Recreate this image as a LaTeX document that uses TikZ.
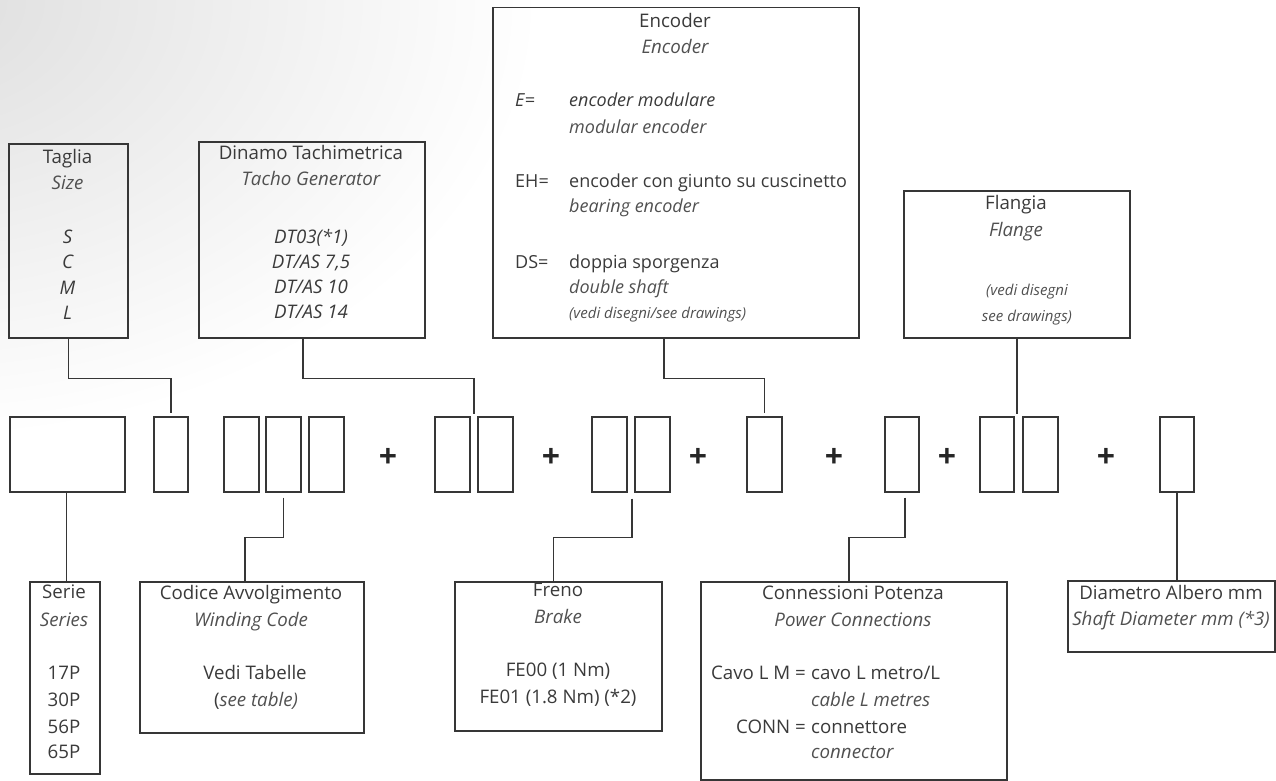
\documentclass[tikz,border=0pt]{standalone}
\usepackage{fontspec}
\setmainfont{Open Sans}
\usetikzlibrary{calc}
\definecolor{linec}{HTML}{363636}
\definecolor{txtc}{HTML}{3A3A3A}
\definecolor{itc}{HTML}{505050}
\begin{document}
\begin{tikzpicture}[x=1pt,y=-1pt,
  box/.style={draw=linec, line width=1.5pt, inner sep=0pt, anchor=north west},
  conn/.style={draw=linec, line width=1.5pt},
  txt/.style={anchor=base, text=txtc, inner sep=0pt, font=\fontsize{18.7}{20}\selectfont},
  it/.style={txt, text=itc, font=\fontsize{18.7}{20}\selectfont\itshape},
  itd/.style={txt, font=\fontsize{18.7}{20}\selectfont\itshape},
  sm/.style={txt, text=itc, font=\fontsize{15}{17}\selectfont\itshape},
  txtl/.style={txt, anchor=base west},
  itl/.style={it, anchor=base west},
  etxt/.style={txt, anchor=base west, font=\fontsize{18}{20}\selectfont},
  eit/.style={etxt, text=itc, font=\fontsize{18}{20}\selectfont\itshape},
  eitd/.style={etxt, font=\fontsize{18}{20}\selectfont\itshape},
  plus/.style={inner sep=0pt, text=black!85, font=\fontsize{32}{32}\selectfont\bfseries}]
\useasboundingbox (0,0) rectangle (1276,781);
% background gradient
\begin{scope}
  \clip (0,0) rectangle (1276,781);
  \shade[inner color=black!13, outer color=white] (-80,0) ellipse [x radius=620, y radius=440];
\end{scope}

% ---------- top boxes ----------
\node[box, minimum width=119pt, minimum height=194pt] (taglia) at (8,143) {};
\node[txt] (tag1) at (67.5,163) {Taglia};
\node[it] (tag2) at (67.5,189) {Size};
\node[itd] (tag3) at (67.5,243) {S};
\node[itd] (tag4) at (67.5,268) {C};
\node[itd] (tag5) at (67.5,294) {M};
\node[itd] (tag6) at (67.5,319) {L};

\node[box, minimum width=226pt, minimum height=196pt] (dinamo) at (198,141) {};
\node[txt] (din1) at (311,159) {Dinamo Tachimetrica};
\node[it] (din2) at (311,185) {Tacho Generator};
\node[itd] (din3) at (311,243) {DT03(*1)};
\node[itd] (din4) at (311,268) {DT/AS 7,5};
\node[itd] (din5) at (311,293) {DT/AS 10};
\node[itd] (din6) at (311,318) {DT/AS 14};

\node[box, minimum width=366pt, minimum height=330pt] (encoder) at (492,7) {};
\node[txt] (enc1) at (675,28) {Encoder};
\node[it] (enc2) at (675,54) {Encoder};
\node[eitd] (enc3) at (515,107) {E=};
\node[eitd] (enc4) at (569,107) {encoder modulare};
\node[eit] (enc5) at (569,133) {modular encoder};
\node[etxt] (enc6) at (515,187) {EH=};
\node[etxt] (enc7) at (569,187) {encoder con giunto su cuscinetto};
\node[eit] (enc8) at (569,212) {bearing encoder};
\node[etxt] (enc9) at (515,268) {DS=};
\node[etxt] (enc10) at (569,268) {doppia sporgenza};
\node[eit] (enc11) at (569,293) {double shaft};
\node[sm, anchor=base west] (enc12) at (569,318) {(vedi disegni/see drawings)};

\node[box, minimum width=226pt, minimum height=147pt] (flangia) at (903,190) {};
\node[txt] (fl1) at (1016,209) {Flangia};
\node[it] (fl2) at (1016,236) {Flange};
\node[sm] (fl3) at (1027,295) {(vedi disegni};
\node[sm] (fl4) at (1027,321) {see drawings)};

% ---------- code row ----------
\node[box, minimum width=115pt, minimum height=75pt] (b0) at (9,416) {};
\node[box, minimum width=34pt, minimum height=75pt] (b1) at (153,416) {};
\node[box, minimum width=35pt, minimum height=75pt] (b2) at (223,416) {};
\node[box, minimum width=35pt, minimum height=75pt] (b3) at (265,416) {};
\node[box, minimum width=35pt, minimum height=75pt] (b4) at (308,416) {};
\node[box, minimum width=35pt, minimum height=75pt] (b5) at (434,416) {};
\node[box, minimum width=35pt, minimum height=75pt] (b6) at (477,416) {};
\node[box, minimum width=35pt, minimum height=75pt] (b7) at (591,416) {};
\node[box, minimum width=35pt, minimum height=75pt] (b8) at (634,416) {};
\node[box, minimum width=35pt, minimum height=75pt] (b9) at (746,416) {};
\node[box, minimum width=34pt, minimum height=75pt] (b10) at (884,416) {};
\node[box, minimum width=34pt, minimum height=75pt] (b11) at (979,416) {};
\node[box, minimum width=35pt, minimum height=75pt] (b12) at (1022,416) {};
\node[box, minimum width=34pt, minimum height=75pt] (b13) at (1159,416) {};

\node[plus] (p1) at (388,458) {+};
\node[plus] (p2) at (551,458) {+};
\node[plus] (p3) at (698,458) {+};
\node[plus] (p4) at (834,458) {+};
\node[plus] (p5) at (947,458) {+};
\node[plus] (p6) at (1106,458) {+};

% ---------- bottom boxes ----------
\node[box, minimum width=70pt, minimum height=192pt] (serie) at (29,581) {};
\node[txt] (se1) at (64,598) {Serie};
\node[it] (se2) at (64,626) {Series};
\node[txt] (se3) at (64,679) {17P};
\node[txt] (se4) at (64,706) {30P};
\node[txt] (se5) at (64,733) {56P};
\node[txt] (se6) at (64,758) {65P};

\node[box, minimum width=224pt, minimum height=151pt] (codice) at (139,581) {};
\node[txt] (co1) at (251,599) {Codice Avvolgimento};
\node[it] (co2) at (251,626) {Winding Code};
\node[txt] (co3) at (255,679) {Vedi Tabelle};
\node[txt] (co4) at (256,706) {(\textcolor{itc}{\itshape see table)}};

\node[box, minimum width=207pt, minimum height=149pt] (freno) at (454,581) {};
\node[txt] (fr1) at (558,596) {Freno};
\node[it] (fr2) at (558,623) {Brake};
\node[txt] (fr3) at (558,676) {FE00 (1 Nm)};
\node[txt] (fr4) at (558,703) {FE01 (1.8 Nm) (*2)};

\node[box, minimum width=306pt, minimum height=198pt] (power) at (700,581) {};
\node[txt] (po1) at (853,599) {Connessioni Potenza};
\node[it] (po2) at (853,626) {Power Connections};
\node[txt, anchor=base east] (po3) at (806,679) {Cavo L M =};
\node[txtl] (po4) at (811,679) {cavo L metro/L};
\node[itl] (po5) at (811,706) {cable L metres};
\node[txt, anchor=base east] (po6) at (806,733) {CONN =};
\node[txtl] (po7) at (811,733) {connettore};
\node[itl] (po8) at (811,758) {connector};

\node[box, minimum width=207pt, minimum height=71pt] (diam) at (1067,580) {};
\node[txt] (di1) at (1171,599) {Diametro Albero mm};
\node[it] (di2) at (1171,625) {Shaft Diameter mm (*3)};

% ---------- connectors ----------
\draw[conn] (taglia.south) -- ++(0,40) -| ([yshift=3pt]b1.north);
\draw[conn] ([xshift=-9pt]dinamo.south) -- ++(0,40) -| ($(b5.north east)!0.5!(b6.north west)+(0,-2)$);
\draw[conn] ([xshift=-12pt]encoder.south) -- ++(0,40) -| ([yshift=3pt]b9.north);
\draw[conn] (flangia.south) -- (flangia.south |- {$(b11.north east)+(0,-2)$});
\draw[conn] ([xshift=-1pt]b0.south) -- ([xshift=-1pt]b0.south |- serie.north);
\draw[conn] ([yshift=-5pt]b3.south) -- ++(0,40) -| ([xshift=-7pt]codice.north);
\draw[conn] ([xshift=-2pt,yshift=-6pt]b8.south west) -- ++(0,39) -| ([xshift=-5pt]freno.north);
\draw[conn] ([xshift=3pt,yshift=-5pt]b10.south) -- ++(0,40) -| ([xshift=-5pt]power.north);
\draw[conn] (b13.south) -- (b13.south |- diam.north);
\end{tikzpicture}
\end{document}
